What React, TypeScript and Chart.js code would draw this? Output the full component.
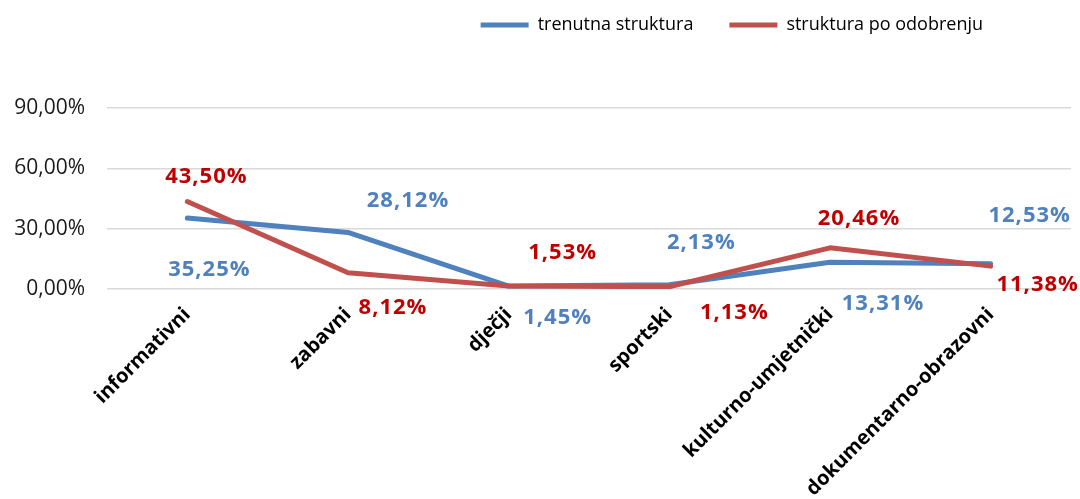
import React, { useEffect, useRef } from 'react';
import { Chart, registerables } from 'chart.js';

Chart.register(...registerables);

// ---- data ----
const categories = [
  'informativni',
  'zabavni',
  'dječji',
  'sportski',
  'kulturno-umjetnički',
  'dokumentarno-obrazovni',
];
const seriesNames = ['trenutna struktura', 'struktura po odobrenju'];
const currentStructure = [35.25, 28.12, 1.45, 2.13, 13.31, 12.53];
const approvedStructure = [43.5, 8.12, 1.53, 1.13, 20.46, 11.38];
const yTickValues = [0, 30, 60, 90];

// ---- styling ----
const BLUE = '#4F81BD';
const RED = '#C0504D';
const BLUE_LABEL = '#4F81BD';
const RED_LABEL = '#C00000';
const FONT = "'Open Sans', sans-serif";

// label placement (offset from the point, in px) for each series / point
const labelOffsets: number[][][] = [
  [[22, 52], [60, -32], [49, 32], [32, -42], [53, 42], [39, -48]],
  [[19, -25], [45, 35], [54, -33], [65, 26], [29, -29], [47, 19]],
];
const labelColors = [BLUE_LABEL, RED_LABEL];

const fmt = (v: number) => v.toFixed(2).replace('.', ',') + '%';

const valueLabels = {
  id: 'valueLabels',
  afterDatasetsDraw(chart: any) {
    const ctx = chart.ctx;
    ctx.save();
    ctx.font = `bold 22px ${FONT}`;
    try { (ctx as any).letterSpacing = '1px'; } catch (e) {}
    ctx.textAlign = 'center';
    ctx.textBaseline = 'middle';
    chart.data.datasets.forEach((ds: any, di: number) => {
      const meta = chart.getDatasetMeta(di);
      meta.data.forEach((pt: any, i: number) => {
        const [dx, dy] = labelOffsets[di][i];
        ctx.fillStyle = labelColors[di];
        ctx.fillText(fmt(ds.data[i]), pt.x + dx, pt.y + dy);
      });
    });
    ctx.restore();
  },
};

const LEGEND_PAD = 36;
const legendPlace = {
  id: 'legendPlace',
  afterLayout(chart: any) {
    const lg = chart.legend;
    if (!lg) return;
    lg.right = 983 + LEGEND_PAD;
    lg.top = 25 - LEGEND_PAD - 9;
  },
};

export default function App() {
  const ref = useRef<HTMLCanvasElement>(null);

  useEffect(() => {
    if (!ref.current) return;
    const chart = new Chart(ref.current, {
      type: 'line',
      data: {
        labels: categories,
        datasets: [
          {
            label: seriesNames[0],
            data: currentStructure,
            borderColor: BLUE,
            backgroundColor: BLUE,
            borderWidth: 5,
            pointRadius: 0,
            tension: 0,
            borderCapStyle: 'round',
            borderJoinStyle: 'round',
            order: 1,
          },
          {
            label: seriesNames[1],
            data: approvedStructure,
            borderColor: RED,
            backgroundColor: RED,
            borderWidth: 5,
            pointRadius: 0,
            tension: 0,
            borderCapStyle: 'round',
            borderJoinStyle: 'round',
            order: 0,
          },
        ],
      },
      options: {
        animation: false,
        responsive: true,
        maintainAspectRatio: false,
        layout: { padding: { top: 44, right: 9, left: 0, bottom: 0 } },
        plugins: {
          tooltip: { enabled: false },
          legend: {
            position: 'top',
            align: 'end',
            labels: {
              usePointStyle: true,
              pointStyle: 'line',
              pointStyleWidth: 48,
              padding: LEGEND_PAD,
              color: '#000',
              font: { family: FONT, size: 18 },
              sort: (a: any, b: any) => a.datasetIndex - b.datasetIndex,
            },
          },
        },
        scales: {
          x: {
            offset: true,
            grid: { display: false },
            border: { display: false },
            ticks: {
              autoSkip: false,
              maxRotation: 45,
              minRotation: 45,
              padding: 6,
              color: '#000',
              font: { family: FONT, size: 20, weight: 'bold' },
            },
            afterFit: (s: any) => { s.height = 210; },
          },
          y: {
            min: 0,
            max: 90,
            afterBuildTicks: (s: any) => { s.ticks = yTickValues.map((v) => ({ value: v })); },
            grid: { color: '#D9D9D9', lineWidth: 1.5, drawTicks: false },
            border: { display: false },
            ticks: {
              padding: 22,
              color: '#1a1a1a',
              font: { family: FONT, size: 21 },
              callback: (v: any) => fmt(Number(v)),
            },
            afterFit: (s: any) => { s.width = 107; },
          },
        },
      },
      plugins: [valueLabels, legendPlace],
    } as any);
    return () => chart.destroy();
  }, []);

  return (
    <div style={{ position: 'absolute', left: 0, top: 0, width: 1080, height: 499, background: '#fff' }}>
      <canvas ref={ref} />
    </div>
  );
}
